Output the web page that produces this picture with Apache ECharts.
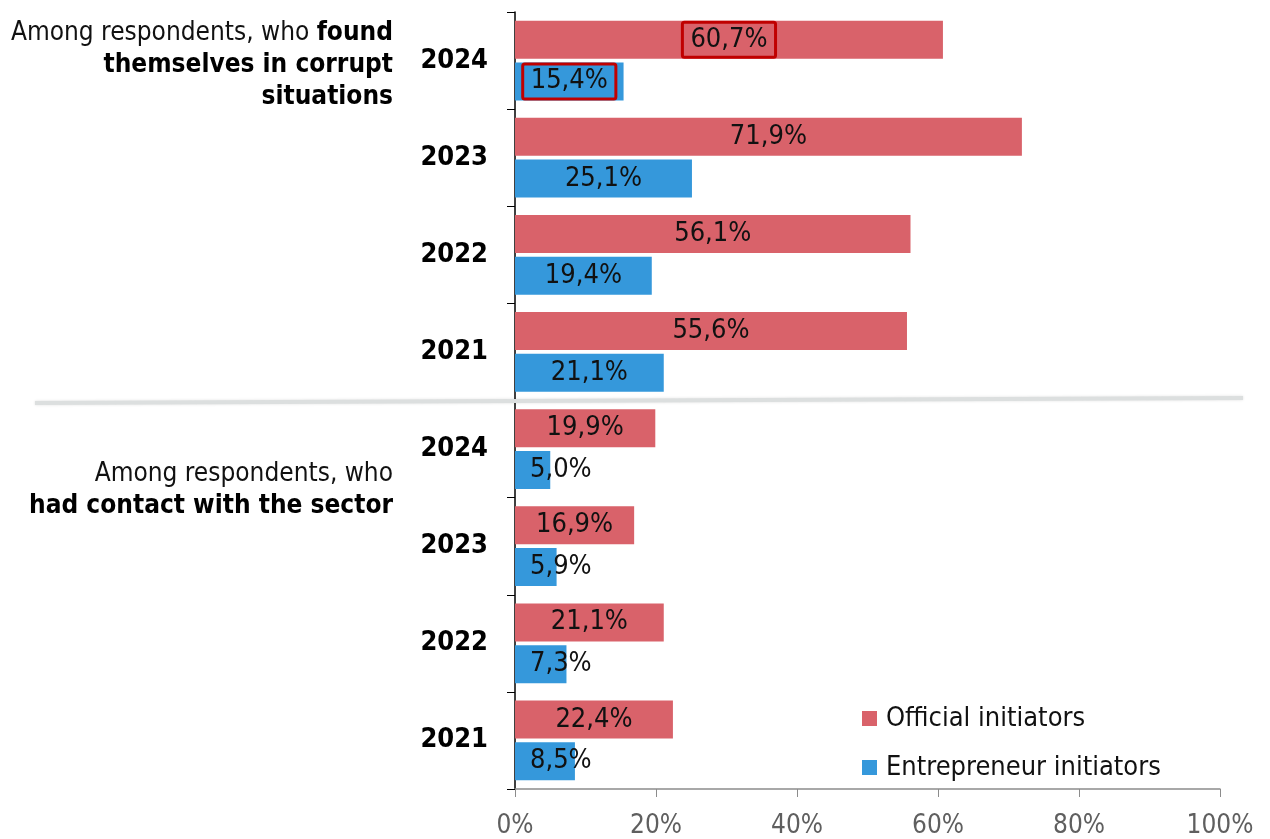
<!DOCTYPE html>
<html>
<head>
<meta charset="utf-8">
<script src="https://cdn.jsdelivr.net/npm/echarts@6/dist/echarts.min.js"></script>
<style>
  html, body { margin: 0; padding: 0; background: #fff; }
  #chart { width: 1270px; height: 839px; }
</style>
</head>
<body>
<div id="chart"></div>
<script>
// Year labels for each row, listed top to bottom (two blocks of four years)
const yearLabels = ['2024', '2023', '2022', '2021', '2024', '2023', '2022', '2021'];
// Share of respondents (%) for each row, same order as yearLabels
const officialValues = [60.7, 71.9, 56.1, 55.6, 19.9, 16.9, 21.1, 22.4];
const entrepreneurValues = [15.4, 25.1, 19.4, 21.1, 5.0, 5.9, 7.3, 8.5];
const seriesNames = ['Official initiators', 'Entrepreneur initiators'];
const xTicks = [0, 20, 40, 60, 80, 100];
// Rows whose values are framed in red
const framedRows = [0];

const FONT = '"DejaVu Sans Condensed", "DejaVu Sans", sans-serif';
const RED = '#D9626A';
const BLUE = '#3598DB';
// Bars shorter than this (in %) get their label pinned near the axis instead of centred
const SHORT_BAR = 11;

const chart = echarts.init(document.getElementById('chart'), null, { renderer: 'canvas' });

const rowKeys = yearLabels.map((y, i) => 'r' + i);

function fmt(v) {
  return v.toFixed(1).replace('.', ',') + '%';
}

function buildData(values) {
  return values.map((v, i) => {
    const item = { value: v };
    const label = {};
    if (framedRows.indexOf(i) >= 0) {
      Object.assign(label, {
        borderColor: '#C00000',
        borderWidth: 3,
        borderRadius: 2,
        padding: [5, 8, 3, 8]
      });
    }
    if (v < SHORT_BAR) {
      Object.assign(label, { position: 'insideLeft', distance: 15 });
    }
    item.label = label;
    return item;
  });
}

const labelStyle = {
  show: true,
  position: 'inside',
  color: '#111',
  fontFamily: FONT,
  fontSize: 27,
  formatter: p => fmt(p.value)
};

// Right-aligned block headings drawn at the left of each group of rows
function heading(lines, top) {
  return lines.map((txt, i) => ({
    type: 'text',
    x: 393,
    y: top + i * 32,
    style: {
      text: txt,
      align: 'right',
      verticalAlign: 'middle',
      font: '26px ' + FONT,
      fill: '#111',
      rich: { b: { fontWeight: 'bold', fontSize: 26, fontFamily: FONT, fill: '#000' } }
    }
  }));
}

const option = {
  animation: false,
  backgroundColor: '#fff',
  grid: { left: 515, right: 50, top: 12, bottom: 49, containLabel: false },
  xAxis: {
    type: 'value',
    min: 0,
    max: 100,
    interval: 20,
    axisLine: { show: true, lineStyle: { color: '#8c8c8c', width: 1.5 } },
    axisTick: { show: true, length: 8, lineStyle: { color: '#8c8c8c' } },
    splitLine: { show: false },
    axisLabel: {
      color: '#5f5f5f',
      fontFamily: FONT,
      fontSize: 26,
      margin: 24,
      formatter: v => (xTicks.indexOf(v) >= 0 ? v + '%' : '')
    }
  },
  yAxis: {
    type: 'category',
    inverse: true,
    data: rowKeys,
    axisLine: { show: true, lineStyle: { color: '#000', width: 1.5 } },
    axisTick: { show: true, length: 8, lineStyle: { color: '#000' } },
    axisLabel: {
      color: '#000',
      fontFamily: FONT,
      fontWeight: 'bold',
      fontSize: 27,
      margin: 27,
      formatter: (v, i) => yearLabels[i]
    }
  },
  legend: {
    data: seriesNames,
    orient: 'vertical',
    left: 857,
    top: 700,
    itemWidth: 15,
    itemHeight: 15,
    itemGap: 22,
    icon: 'rect',
    textStyle: { fontFamily: FONT, fontSize: 27, color: '#111', padding: [0, 0, 0, 4] }
  },
  series: [
    {
      name: seriesNames[0],
      type: 'bar',
      data: buildData(officialValues),
      barWidth: 38,
      barGap: '10%',
      itemStyle: { color: RED },
      label: labelStyle
    },
    {
      name: seriesNames[1],
      type: 'bar',
      data: buildData(entrepreneurValues),
      barWidth: 38,
      barGap: '10%',
      itemStyle: { color: BLUE },
      label: labelStyle
    }
  ],
  graphic: [
    {
      type: 'line',
      shape: { x1: 35, y1: 403, x2: 1243, y2: 398 },
      style: { stroke: '#dcdfdf', lineWidth: 4, shadowBlur: 3, shadowColor: 'rgba(0,0,0,0.12)' },
      z: 100
    }
  ]
    .concat(heading(['Among respondents, who {b|found}', '{b|themselves in corrupt}', '{b|situations}'], 33))
    .concat(heading(['Among respondents, who', '{b|had contact with the sector}'], 474))
};

chart.setOption(option);
</script>
</body>
</html>
